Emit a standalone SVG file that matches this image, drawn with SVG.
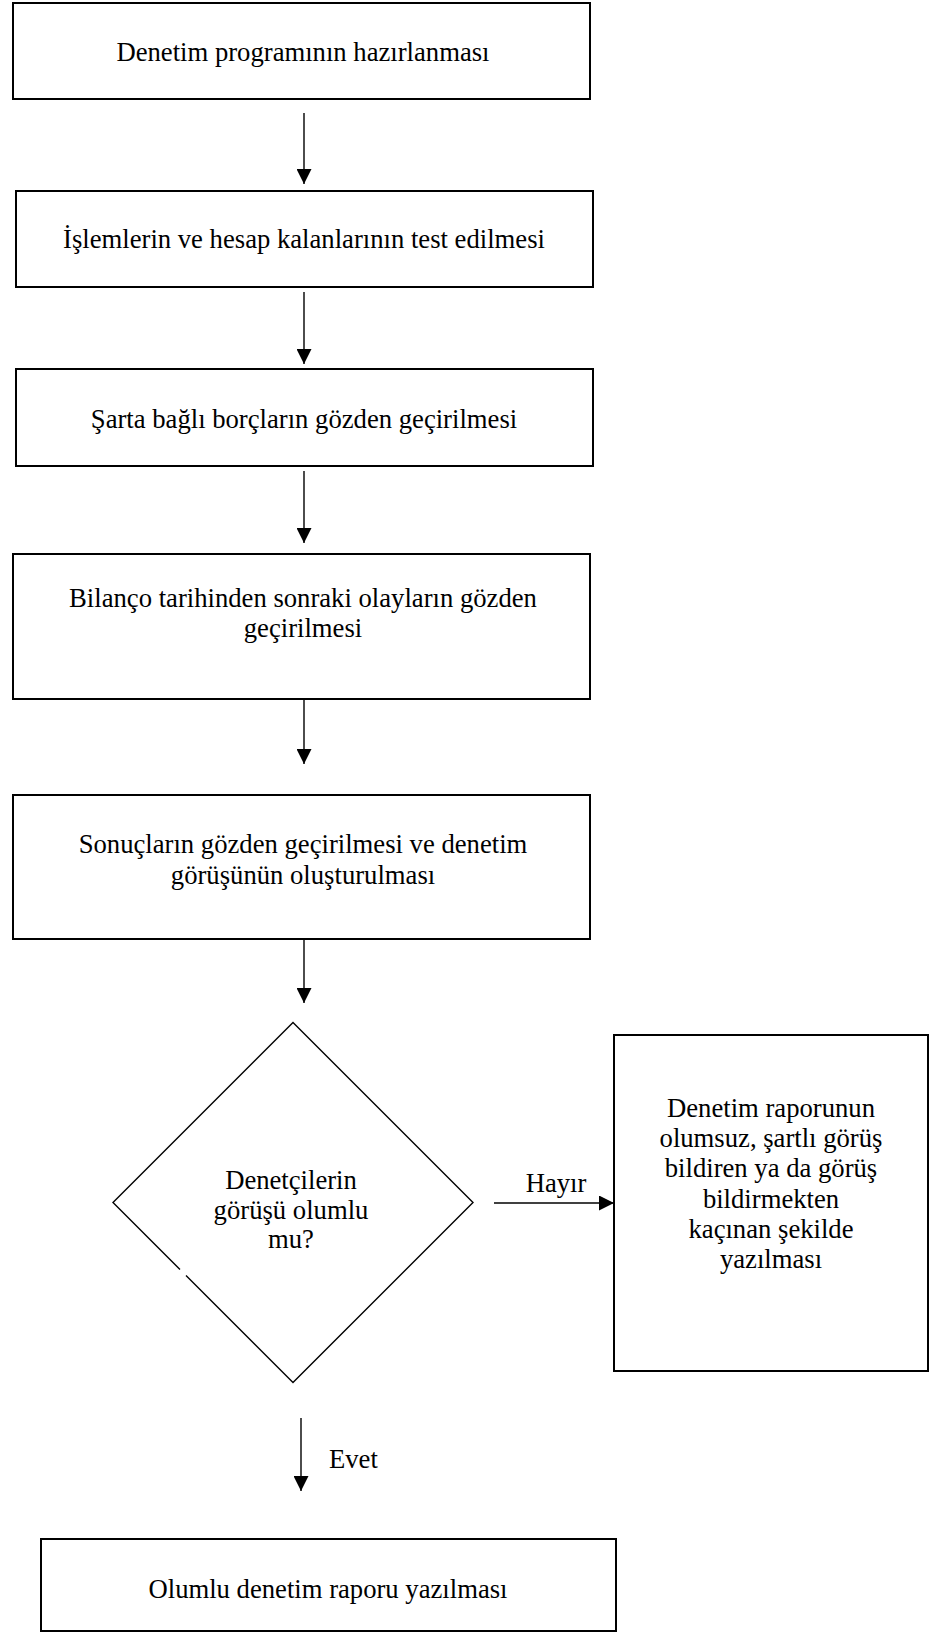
<svg xmlns="http://www.w3.org/2000/svg" width="936" height="1632" viewBox="0 0 936 1632">
<defs>
<style>
.box{fill:#fff;stroke:#000;stroke-width:2}
.dia{fill:none;stroke:#000;stroke-width:1.4}
.con{stroke:#000;stroke-width:1.4;fill:none}
.t{font-family:'Liberation Serif','Times New Roman',Tinos,serif;font-size:26.67px;fill:#000;text-anchor:middle}
.lbl{text-anchor:start}
</style>
<marker id="ah" markerUnits="userSpaceOnUse" markerWidth="15" markerHeight="15" refX="15" refY="7.5" orient="auto">
<path d="M0,0 L15,7.5 L0,15 z" fill="#000"/>
</marker>
</defs>
<rect width="936" height="1632" fill="#fff"/>
<g id="connectors">
<line class="con" x1="304" y1="113" x2="304" y2="184" marker-end="url(#ah)"/>
<line class="con" x1="304" y1="292" x2="304" y2="364" marker-end="url(#ah)"/>
<line class="con" x1="304" y1="471" x2="304" y2="543" marker-end="url(#ah)"/>
<line class="con" x1="304" y1="693" x2="304" y2="764" marker-end="url(#ah)"/>
<line class="con" x1="304" y1="939" x2="304" y2="1003" marker-end="url(#ah)"/>
<line class="con" x1="494" y1="1203" x2="614" y2="1203" marker-end="url(#ah)"/>
<text class="t" font-family="Liberation Serif, serif" x="556" y="1192">Hayır</text>
<line class="con" x1="301" y1="1418" x2="301" y2="1491" marker-end="url(#ah)"/>
<text class="t lbl" font-family="Liberation Serif, serif" x="329" y="1468">Evet</text>
</g>
<g id="n1" font-family="Liberation Serif, serif">
<rect class="box" x="13" y="3" width="577" height="96"/>
<text class="t" x="303" y="61">Denetim programının hazırlanması</text>
</g>
<g id="n2" font-family="Liberation Serif, serif">
<rect class="box" x="16" y="191" width="577" height="96"/>
<text class="t" x="304" y="248">İşlemlerin ve hesap kalanlarının test edilmesi</text>
</g>
<g id="n3" font-family="Liberation Serif, serif">
<rect class="box" x="16" y="369" width="577" height="97"/>
<text class="t" x="304" y="428">Şarta bağlı borçların gözden geçirilmesi</text>
</g>
<g id="n4" font-family="Liberation Serif, serif">
<rect class="box" x="13" y="554" width="577" height="145"/>
<text class="t" x="303" y="607">Bilanço tarihinden sonraki olayların gözden</text>
<text class="t" x="303" y="637">geçirilmesi</text>
</g>
<g id="n5" font-family="Liberation Serif, serif">
<rect class="box" x="13" y="795" width="577" height="144"/>
<text class="t" x="303" y="853">Sonuçların gözden geçirilmesi ve denetim</text>
<text class="t" x="303" y="884">görüşünün oluşturulması</text>
</g>
<g id="n6" font-family="Liberation Serif, serif">
<path class="dia" d="M180,1269.5 L113,1202.5 L293,1022.5 L473,1202.5 L293,1382.5 L186,1275.5"/>
<text class="t" x="291" y="1189">Denetçilerin</text>
<text class="t" x="291" y="1219">görüşü olumlu</text>
<text class="t" x="291" y="1248">mu?</text>
</g>
<g id="n7" font-family="Liberation Serif, serif">
<rect class="box" x="614" y="1035" width="314" height="336"/>
<text class="t" x="771" y="1117">Denetim raporunun</text>
<text class="t" x="771" y="1147">olumsuz, şartlı görüş</text>
<text class="t" x="771" y="1177">bildiren ya da görüş</text>
<text class="t" x="771" y="1208">bildirmekten</text>
<text class="t" x="771" y="1238">kaçınan şekilde</text>
<text class="t" x="771" y="1268">yazılması</text>
</g>
<g id="n8" font-family="Liberation Serif, serif">
<rect class="box" x="41" y="1539" width="575" height="92"/>
<text class="t" x="328" y="1598">Olumlu denetim raporu yazılması</text>
</g>
</svg>
